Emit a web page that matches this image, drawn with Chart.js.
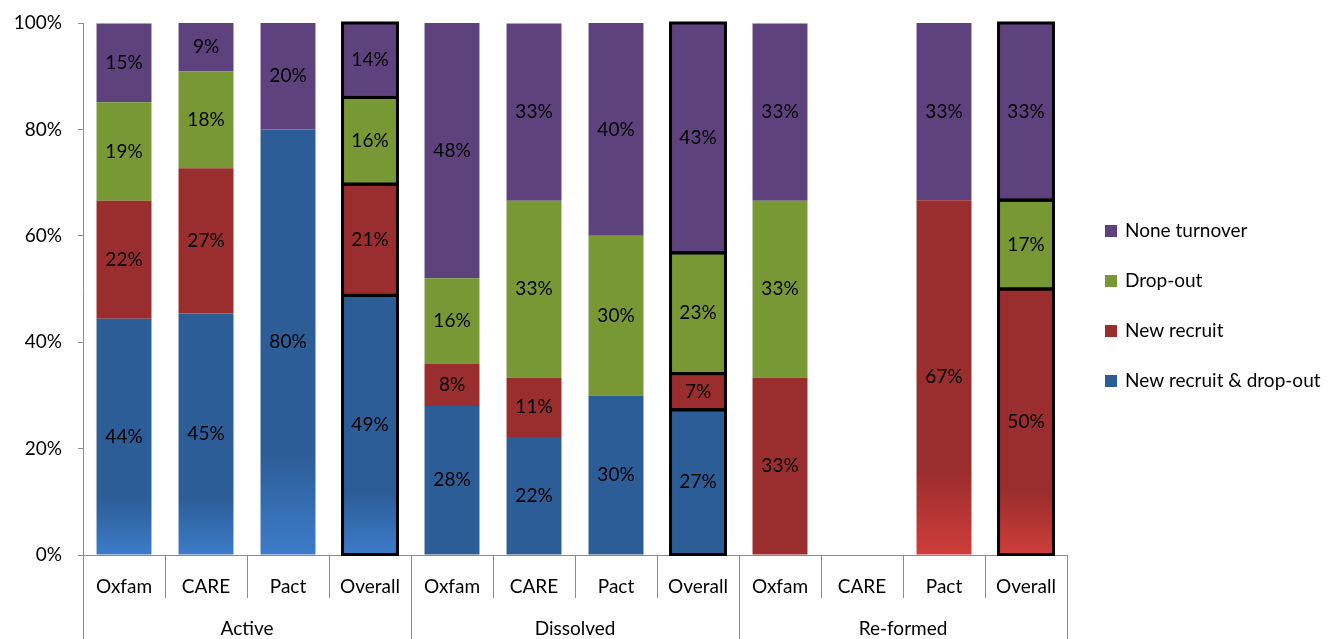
<!DOCTYPE html>
<html>
<head>
<meta charset="utf-8">
<script src="https://cdn.jsdelivr.net/npm/chart.js@4.4.1/dist/chart.umd.min.js"></script>
<style>
  html, body { margin: 0; padding: 0; background: #fff; }
  #wrap { width: 1343px; height: 639px; }
</style>
</head>
<body>
<div id="wrap"><canvas id="turnoverChart" width="1343" height="639"></canvas></div>
<script>
// Categories and groups
const categories = ['Oxfam', 'CARE', 'Pact', 'Overall', 'Oxfam', 'CARE', 'Pact', 'Overall', 'Oxfam', 'CARE', 'Pact', 'Overall'];
const groups = ['Active', 'Dissolved', 'Re-formed'];

// Series values (percent of groups)
const newRecruitDropOut = [44.4, 45.4, 80.0, 48.8, 28.0, 22.2, 30.0, 27.3, 0, 0, 0, 0];
const newRecruit = [22.2, 27.3, 0, 20.9, 8.0, 11.1, 0, 6.8, 33.3, 0, 66.7, 50.0];
const dropOut = [18.5, 18.2, 0, 16.3, 16.0, 33.3, 30.0, 22.7, 33.3, 0, 0, 16.7];
const noneTurnover = [14.8, 9.1, 20.0, 14.0, 48.0, 33.3, 40.0, 43.2, 33.3, 0, 33.3, 33.3];

const yTicks = [0, 20, 40, 60, 80, 100];

const FONT = 'Lato';
const AXIS_GRAY = '#8c8c8c';

// bars that show the lighter fade at the bottom
const fadeBars = { 0: [0, 1, 2, 3], 1: [10, 11] };
const lightColors = ['#3d7cc9', '#cf3d3b'];

function isOverall(i) {
    return categories[i] === 'Overall';
}

function makeFill(base, datasetIndex) {
    return function(context) {
        const chart = context.chart;
        const i = context.dataIndex;
        const list = fadeBars[datasetIndex];
        if (!list || list.indexOf(i) < 0 || !chart.chartArea || !chart.scales.y) return base;
        const y = chart.scales.y;
        let start = 0;
        for (let d = 0; d < datasetIndex; d++) start += chart.data.datasets[d].data[i];
        const value = chart.data.datasets[datasetIndex].data[i];
        const top = y.getPixelForValue(start + value);
        const bottom = y.getPixelForValue(start);
        if (!isFinite(top) || !isFinite(bottom) || bottom - top < 2) return base;
        const g = chart.ctx.createLinearGradient(0, top, 0, bottom);
        g.addColorStop(0, base);
        g.addColorStop(0.76, base);
        g.addColorStop(1, lightColors[datasetIndex]);
        return g;
    };
}

function makeDataset(label, data, color, datasetIndex) {
    return {
        label: label,
        data: data,
        backgroundColor: makeFill(color, datasetIndex),
        legendColor: color,
        borderWidth: 0,
        barPercentage: 0.67,
        categoryPercentage: 1.0
    };
}

// Outline the Overall segments and write the percentage labels
const segmentLabels = {
    id: 'segmentLabels',
    afterDatasetsDraw(chart) {
        const ctx = chart.ctx;
        ctx.save();
        ctx.strokeStyle = '#000';
        ctx.lineWidth = 3;
        chart.data.datasets.forEach((ds, di) => {
            const meta = chart.getDatasetMeta(di);
            meta.data.forEach((bar, i) => {
                if (!isOverall(i) || !ds.data[i]) return;
                const half = bar.width / 2;
                ctx.strokeRect(bar.x - half, bar.y, bar.width, bar.base - bar.y);
            });
        });

        ctx.font = '19px ' + FONT;
        ctx.fillStyle = '#000';
        ctx.textAlign = 'center';
        ctx.textBaseline = 'middle';
        chart.data.datasets.forEach((ds, di) => {
            const meta = chart.getDatasetMeta(di);
            meta.data.forEach((bar, i) => {
                const v = ds.data[i];
                if (!v) return;
                ctx.fillText(Math.round(v) + '%', bar.x, (bar.y + bar.base) / 2);
            });
        });
        ctx.restore();
    }
};

// Separator lines of the two-level category axis, plus the legend
const axisAndLegend = {
    id: 'axisAndLegend',
    afterDraw(chart) {
        const ctx = chart.ctx;
        const x = chart.scales.x;
        const area = chart.chartArea;
        const step = x.getPixelForValue(1) - x.getPixelForValue(0);
        ctx.save();
        ctx.strokeStyle = AXIS_GRAY;
        ctx.lineWidth = 1;
        for (let i = 0; i <= categories.length; i++) {
            const px = Math.round(x.getPixelForValue(0) - step / 2 + step * i) + 0.5;
            const groupEdge = i % 4 === 0;
            ctx.beginPath();
            ctx.moveTo(px, area.bottom);
            ctx.lineTo(px, groupEdge ? chart.height : area.bottom + 43);
            ctx.stroke();
        }

        // legend, top item first
        const items = chart.data.datasets.slice().reverse();
        ctx.font = '19px ' + FONT;
        ctx.textAlign = 'left';
        ctx.textBaseline = 'middle';
        items.forEach((ds, k) => {
            const cy = 231 + k * 50;
            ctx.fillStyle = ds.legendColor;
            ctx.fillRect(1105, cy - 6, 12, 12);
            ctx.fillStyle = '#000';
            ctx.fillText(ds.label, 1125, cy);
        });
        ctx.restore();
    }
};

document.addEventListener('DOMContentLoaded', function() {
    const canvas = document.getElementById('turnoverChart');

    new Chart(canvas, {
        type: 'bar',
        data: {
            labels: categories,
            datasets: [
                makeDataset('New recruit & drop-out', newRecruitDropOut, '#2c5d97', 0),
                makeDataset('New recruit', newRecruit, '#9a2d2d', 1),
                makeDataset('Drop-out', dropOut, '#779835', 2),
                makeDataset('None turnover', noneTurnover, '#5e427e', 3)
            ]
        },
        options: {
            responsive: false,
            animation: false,
            layout: {
                padding: { top: 23, right: 276, bottom: 0, left: 0 }
            },
            plugins: {
                legend: { display: false },
                tooltip: { enabled: false }
            },
            scales: {
                x: {
                    stacked: true,
                    grid: { display: false },
                    border: { display: true, color: AXIS_GRAY, width: 1 },
                    ticks: {
                        color: '#000',
                        font: { family: FONT, size: 19 },
                        padding: 12,
                        maxRotation: 0,
                        autoSkip: false
                    },
                    afterFit: function(scale) {
                        scale.height = 42;
                        scale.paddingLeft = 0;
                        scale.paddingRight = 0;
                    }
                },
                x2: {
                    type: 'category',
                    labels: groups,
                    position: 'bottom',
                    grid: { display: false },
                    border: { display: false },
                    ticks: {
                        color: '#000',
                        font: { family: FONT, size: 19 },
                        padding: 12,
                        maxRotation: 0
                    },
                    afterFit: function(scale) {
                        scale.height = 42;
                        scale.paddingLeft = 0;
                        scale.paddingRight = 0;
                    }
                },
                y: {
                    stacked: true,
                    min: 0,
                    max: 100,
                    afterBuildTicks: function(scale) {
                        scale.ticks = yTicks.map(v => ({ value: v }));
                    },
                    grid: {
                        drawOnChartArea: false,
                        drawTicks: true,
                        tickLength: 5,
                        color: AXIS_GRAY
                    },
                    border: { display: true, color: AXIS_GRAY, width: 1 },
                    ticks: {
                        color: '#000',
                        font: { family: FONT, size: 19 },
                        padding: 16,
                        callback: function(v) { return v + '%'; }
                    },
                    afterFit: function(scale) {
                        scale.width = 83;
                        scale.paddingTop = 0;
                        scale.paddingBottom = 0;
                    }
                }
            }
        },
        plugins: [segmentLabels, axisAndLegend]
    });
});
</script>
</body>
</html>
